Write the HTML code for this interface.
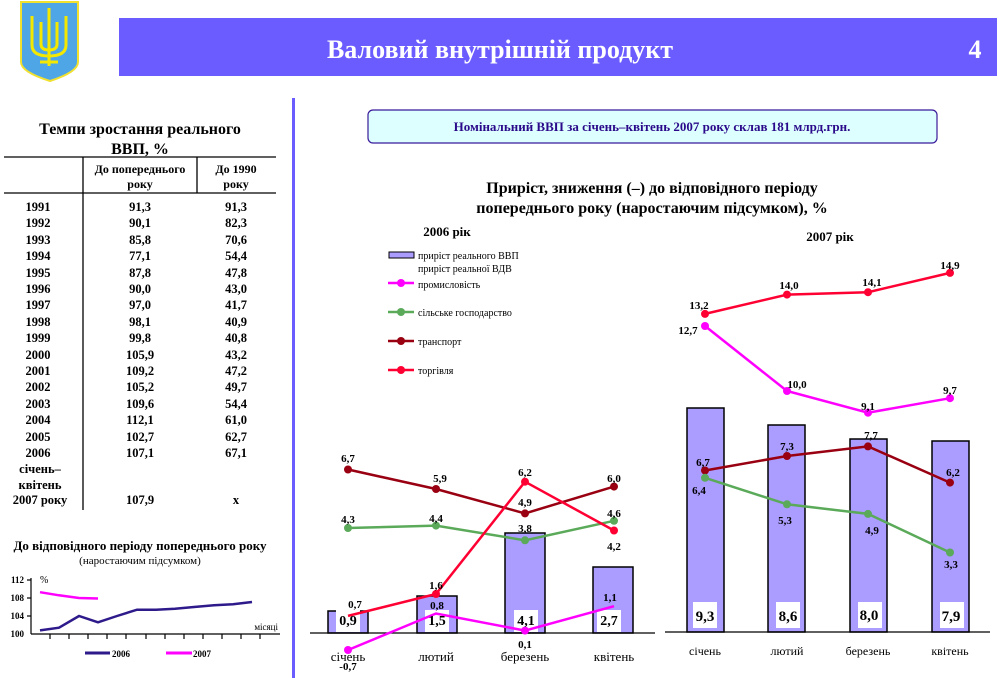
<!DOCTYPE html>
<html><head><meta charset="utf-8"><style>
html,body{margin:0;padding:0;background:#fff;}
svg{display:block;font-family:"Liberation Serif",serif;}
.b{font-weight:bold;}
</style></head><body>
<svg width="999" height="678" viewBox="0 0 999 678" xmlns="http://www.w3.org/2000/svg">
<!-- coat of arms -->
<path d="M21,2 H78 V62 Q78,72 50,81 Q21,72 21,62 Z" fill="#4ea6e6" stroke="#f0e030" stroke-width="2"/>
<g stroke="#f5e800" stroke-width="3" fill="none">
<path d="M49,8 V66"/><path d="M32,16 V45 Q32,56 49,56 Q66,56 66,45 V16"/>
<path d="M41,22 V44 Q41,50 49,50 Q57,50 57,44 V22"/><path d="M40,62 H58"/>
</g>
<!-- header bar -->
<rect x="119" y="18" width="878" height="58" fill="#6b5cff"/>
<text x="500" y="58" text-anchor="middle" font-size="26" class="b" fill="#fff">Валовий внутрішній продукт</text>
<text x="975" y="58" text-anchor="middle" font-size="26" class="b" fill="#fff">4</text>
<rect x="292" y="98" width="3" height="580" fill="#6b5cff"/>
<!-- table -->
<g font-size="16" class="b" text-anchor="middle">
<text x="140" y="134">Темпи зростання реального</text>
<text x="140" y="154">ВВП, %</text></g>
<g stroke="#000" stroke-width="1.3"><line x1="4" y1="157" x2="276" y2="157"/><line x1="4" y1="193" x2="276" y2="193"/>
<line x1="83" y1="157" x2="83" y2="510"/><line x1="197" y1="157" x2="197" y2="193"/></g>
<g font-size="12" class="b" text-anchor="middle">
<text x="140" y="173">До попереднього</text><text x="140" y="188">року</text>
<text x="236" y="173">До 1990</text><text x="236" y="188">року</text>
</g>
<g font-size="12.5" class="b" text-anchor="middle">
<text x="38" y="211">1991</text><text x="140" y="211">91,3</text><text x="236" y="211">91,3</text>
<text x="38" y="227">1992</text><text x="140" y="227">90,1</text><text x="236" y="227">82,3</text>
<text x="38" y="244">1993</text><text x="140" y="244">85,8</text><text x="236" y="244">70,6</text>
<text x="38" y="260">1994</text><text x="140" y="260">77,1</text><text x="236" y="260">54,4</text>
<text x="38" y="277">1995</text><text x="140" y="277">87,8</text><text x="236" y="277">47,8</text>
<text x="38" y="293">1996</text><text x="140" y="293">90,0</text><text x="236" y="293">43,0</text>
<text x="38" y="309">1997</text><text x="140" y="309">97,0</text><text x="236" y="309">41,7</text>
<text x="38" y="326">1998</text><text x="140" y="326">98,1</text><text x="236" y="326">40,9</text>
<text x="38" y="342">1999</text><text x="140" y="342">99,8</text><text x="236" y="342">40,8</text>
<text x="38" y="359">2000</text><text x="140" y="359">105,9</text><text x="236" y="359">43,2</text>
<text x="38" y="375">2001</text><text x="140" y="375">109,2</text><text x="236" y="375">47,2</text>
<text x="38" y="391">2002</text><text x="140" y="391">105,2</text><text x="236" y="391">49,7</text>
<text x="38" y="408">2003</text><text x="140" y="408">109,6</text><text x="236" y="408">54,4</text>
<text x="38" y="424">2004</text><text x="140" y="424">112,1</text><text x="236" y="424">61,0</text>
<text x="38" y="441">2005</text><text x="140" y="441">102,7</text><text x="236" y="441">62,7</text>
<text x="38" y="457">2006</text><text x="140" y="457">107,1</text><text x="236" y="457">67,1</text>
<text x="40" y="473">січень–</text><text x="40" y="489">квітень</text>
<text x="40" y="504">2007 року</text><text x="140" y="504">107,9</text><text x="236" y="504">х</text>
</g>
<!-- small chart -->
<text x="140" y="550" text-anchor="middle" font-size="13" class="b">До відповідного періоду попереднього року</text>
<text x="140" y="564" text-anchor="middle" font-size="11">(наростаючим підсумком)</text>
<g font-size="9" class="b" text-anchor="end"><text x="24" y="583">112</text><text x="24" y="601">108</text><text x="24" y="619">104</text><text x="24" y="637">100</text></g>
<text x="40" y="583" font-size="10">%</text>
<text x="278" y="630" font-size="9" text-anchor="end">місяці</text>
<g stroke="#000" stroke-width="1.2"><line x1="31" y1="578" x2="31" y2="634"/><line x1="31" y1="634" x2="280" y2="634"/>
<line x1="27" y1="580" x2="31" y2="580"/><line x1="27" y1="598" x2="31" y2="598"/><line x1="27" y1="616" x2="31" y2="616"/>
<line x1="50" y1="634" x2="50" y2="639"/><line x1="69" y1="634" x2="69" y2="639"/><line x1="88" y1="634" x2="88" y2="639"/><line x1="107" y1="634" x2="107" y2="639"/><line x1="126" y1="634" x2="126" y2="639"/><line x1="146" y1="634" x2="146" y2="639"/><line x1="165" y1="634" x2="165" y2="639"/><line x1="184" y1="634" x2="184" y2="639"/><line x1="203" y1="634" x2="203" y2="639"/><line x1="222" y1="634" x2="222" y2="639"/><line x1="241" y1="634" x2="241" y2="639"/><line x1="260" y1="634" x2="260" y2="639"/></g>
<polyline fill="none" stroke="#2e1a8a" stroke-width="2.5" points="40,630.4 59,627.7 79,616 98,622.3 117,616 137,609.7 156,609.7 175,608.8 194,607 214,605.2 233,604.3 252,602"/>
<polyline fill="none" stroke="#ff00ff" stroke-width="2.5" points="40,592.2 59,595.3 79,598 98,598.5"/>
<line x1="85" y1="653" x2="110" y2="653" stroke="#2e1a8a" stroke-width="3"/><text x="112" y="657" font-size="9" class="b">2006</text>
<line x1="166" y1="653" x2="192" y2="653" stroke="#ff00ff" stroke-width="3"/><text x="193" y="657" font-size="9" class="b">2007</text>
<!-- banner -->
<rect x="368" y="110" width="569" height="33" rx="5" fill="#ddffff" stroke="#3a1a9a" stroke-width="1.2"/>
<text x="652" y="131" text-anchor="middle" font-size="13" class="b" fill="#2a0a8a">Номінальний ВВП за січень–квітень 2007 року склав 181 млрд.грн.</text>
<g font-size="16" class="b" text-anchor="middle"><text x="652" y="193">Приріст, зниження (–) до відповідного періоду</text><text x="652" y="213">попереднього року (наростаючим підсумком), %</text></g>
<text x="447" y="236" text-anchor="middle" font-size="13" class="b">2006 рік</text>
<text x="830" y="241" text-anchor="middle" font-size="13" class="b">2007 рік</text>
<!-- legend -->
<rect x="389" y="252" width="25" height="6" fill="#ab9cff" stroke="#000" stroke-width="1"/>
<g font-size="10"><text x="418" y="259">приріст реального ВВП</text><text x="418" y="272">приріст реальної ВДВ</text>
<text x="418" y="288">промисловість</text><text x="418" y="316">сільське господарство</text><text x="418" y="345">транспорт</text><text x="418" y="374">торгівля</text></g>
<g stroke-width="2.5"><line x1="388" y1="283" x2="414" y2="283" stroke="#ff00ff"/><line x1="388" y1="312" x2="414" y2="312" stroke="#5aaa5a"/><line x1="388" y1="341" x2="414" y2="341" stroke="#990011"/><line x1="388" y1="370" x2="414" y2="370" stroke="#ff0033"/></g>
<circle cx="401" cy="283" r="4" fill="#ff00ff"/><circle cx="401" cy="312" r="4" fill="#5aaa5a"/><circle cx="401" cy="341" r="4" fill="#990011"/><circle cx="401" cy="370" r="4" fill="#ff0033"/>
<!-- 2006 chart -->
<g fill="#ab9cff" stroke="#000" stroke-width="1.5">
<rect x="328" y="611" width="40" height="22"/><rect x="417" y="596" width="40" height="37"/><rect x="505" y="533" width="40" height="100"/><rect x="593" y="567" width="40" height="66"/></g>
<line x1="310" y1="633" x2="655" y2="633" stroke="#000" stroke-width="1.3"/>
<g fill="#fff"><rect x="336" y="610" width="24" height="22"/><rect x="425" y="610" width="24" height="22"/><rect x="514" y="610" width="24" height="22"/><rect x="597" y="610" width="24" height="22"/></g>
<polyline fill="none" stroke="#990011" stroke-width="2.5" points="348,469.5 436,489 525,513.4 614,486.6"/>
<polyline fill="none" stroke="#5aaa5a" stroke-width="2.5" points="348,528 436,525.6 525,540.3 614,520.8"/>
<polyline fill="none" stroke="#ff0033" stroke-width="2.5" points="348,615.9 436,594 525,481.7 614,530.5"/>
<polyline fill="none" stroke="#ff00ff" stroke-width="2.5" points="348,650 436,613.5 525,630.6 614,606.2"/>
<g fill="#990011"><circle cx="348" cy="469.5" r="4"/><circle cx="436" cy="489" r="4"/><circle cx="525" cy="513.4" r="4"/><circle cx="614" cy="486.6" r="4"/></g>
<g fill="#5aaa5a"><circle cx="348" cy="528" r="4"/><circle cx="436" cy="525.6" r="4"/><circle cx="525" cy="540.3" r="4"/><circle cx="614" cy="520.8" r="4"/></g>
<g fill="#ff0033"><circle cx="436" cy="594" r="4"/><circle cx="525" cy="481.7" r="4"/><circle cx="614" cy="530.5" r="4"/></g>
<g fill="#ff00ff"><circle cx="348" cy="650" r="4"/><circle cx="525" cy="630.6" r="4"/></g>
<g font-size="11" class="b" text-anchor="middle">
<text x="348" y="462">6,7</text><text x="440" y="482">5,9</text><text x="525" y="506">4,9</text><text x="614" y="482">6,0</text>
<text x="348" y="523">4,3</text><text x="436" y="522">4,4</text><text x="525" y="532">3,8</text><text x="614" y="517">4,6</text>
<text x="355" y="608">0,7</text><text x="436" y="589">1,6</text><text x="525" y="476">6,2</text><text x="614" y="550">4,2</text>
<text x="348" y="670">-0,7</text><text x="437" y="609">0,8</text><text x="525" y="648">0,1</text><text x="610" y="601">1,1</text>
</g>
<g font-size="14" class="b" text-anchor="middle"><text x="348" y="625">0,9</text><text x="437" y="625">1,5</text><text x="526" y="625">4,1</text><text x="609" y="625">2,7</text></g>
<g font-size="13" text-anchor="middle"><text x="348" y="661">січень</text><text x="436" y="661">лютий</text><text x="525" y="661">березень</text><text x="614" y="661">квітень</text></g>
<!-- 2007 chart -->
<g fill="#ab9cff" stroke="#000" stroke-width="1.5">
<rect x="687" y="408" width="37" height="224"/><rect x="768" y="425" width="37" height="207"/><rect x="850" y="439" width="37" height="193"/><rect x="932" y="441" width="37" height="191"/></g>
<line x1="665" y1="632" x2="990" y2="632" stroke="#000" stroke-width="1.3"/>
<g fill="#fff"><rect x="693" y="602" width="24" height="26"/><rect x="776" y="602" width="24" height="26"/><rect x="858" y="602" width="24" height="26"/><rect x="940" y="602" width="24" height="26"/></g>
<g font-size="15" class="b" text-anchor="middle"><text x="705" y="621">9,3</text><text x="788" y="621">8,6</text><text x="869" y="620">8,0</text><text x="951" y="621">7,9</text></g>
<polyline fill="none" stroke="#ff0033" stroke-width="2.5" points="705,313.9 787,294.6 868,292.2 950,272.9"/>
<polyline fill="none" stroke="#ff00ff" stroke-width="2.5" points="705,326 787,391 868,412.7 950,398.2"/>
<polyline fill="none" stroke="#990011" stroke-width="2.5" points="705,470.5 787,456 868,446.4 950,482.6"/>
<polyline fill="none" stroke="#5aaa5a" stroke-width="2.5" points="705,477.8 787,504.3 868,513.9 950,552.5"/>
<g fill="#ff0033"><circle cx="705" cy="313.9" r="4"/><circle cx="787" cy="294.6" r="4"/><circle cx="868" cy="292.2" r="4"/><circle cx="950" cy="272.9" r="4"/></g>
<g fill="#ff00ff"><circle cx="705" cy="326" r="4"/><circle cx="787" cy="391" r="4"/><circle cx="868" cy="412.7" r="4"/><circle cx="950" cy="398.2" r="4"/></g>
<g fill="#990011"><circle cx="705" cy="470.5" r="4"/><circle cx="787" cy="456" r="4"/><circle cx="868" cy="446.4" r="4"/><circle cx="950" cy="482.6" r="4"/></g>
<g fill="#5aaa5a"><circle cx="705" cy="477.8" r="4"/><circle cx="787" cy="504.3" r="4"/><circle cx="868" cy="513.9" r="4"/><circle cx="950" cy="552.5" r="4"/></g>
<g font-size="11" class="b" text-anchor="middle">
<text x="699" y="309">13,2</text><text x="789" y="289">14,0</text><text x="872" y="286">14,1</text><text x="950" y="269">14,9</text>
<text x="688" y="334">12,7</text><text x="797" y="388">10,0</text><text x="868" y="410">9,1</text><text x="950" y="394">9,7</text>
<text x="703" y="466">6,7</text><text x="787" y="450">7,3</text><text x="871" y="439">7,7</text><text x="953" y="476">6,2</text>
<text x="699" y="494">6,4</text><text x="785" y="524">5,3</text><text x="872" y="534">4,9</text><text x="951" y="568">3,3</text>
</g>
<g font-size="12" text-anchor="middle"><text x="705" y="655">січень</text><text x="787" y="655">лютий</text><text x="868" y="655">березень</text><text x="950" y="655">квітень</text></g>
</svg>
</body></html>
